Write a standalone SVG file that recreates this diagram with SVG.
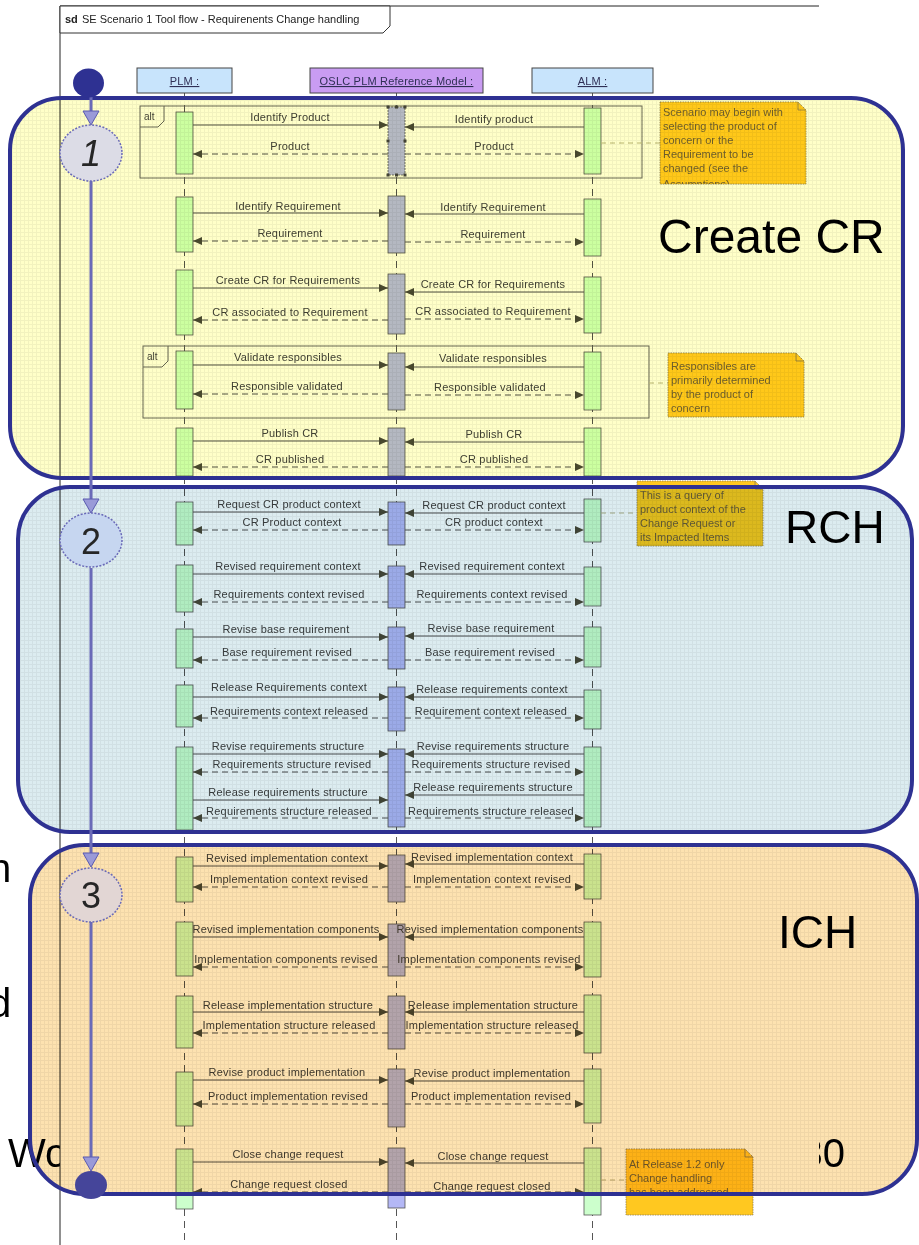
<svg xmlns="http://www.w3.org/2000/svg" width="919" height="1245" viewBox="0 0 919 1245">
  <style>
    .msg { font-family: "Liberation Sans", Arial, sans-serif; font-size: 11px; fill: #404040; letter-spacing: 0.2px; text-anchor: middle; }
    .call { stroke: #505050; stroke-width: 1; fill: none; marker-end: url(#ah); }
    .ret { stroke: #505050; stroke-width: 1; fill: none; stroke-dasharray: 6 4; marker-end: url(#ah); }
    .life { stroke: #555; stroke-width: 1; stroke-dasharray: 7 5; }
    .bar-g { fill: #ccffcc; stroke: #555; stroke-width: 0.8; }
    .bar-b { fill: #b4b8f6; stroke: #555; stroke-width: 0.8; }
    .head { stroke: #444; stroke-width: 1; }
    .headtxt { font-family: "Liberation Sans", Arial, sans-serif; font-size: 11px; fill: #2f2f55; text-decoration: underline; text-anchor: middle; letter-spacing: 0.2px; }
    .frag { fill: none; stroke: #666; stroke-width: 1; }
    .fragtxt { font-family: "Liberation Sans", Arial, sans-serif; font-size: 10px; fill: #444; }
    .note { fill: #ffc820; stroke: #8a7a50; stroke-width: 0.8; stroke-dasharray: 1.5 1; }
    .notetxt { font-family: "Liberation Sans", Arial, sans-serif; font-size: 11px; fill: #6e5f38; }
    .anchor { stroke: #b8b48c; stroke-width: 1; stroke-dasharray: 5 4; }
    .tint { mix-blend-mode: multiply; }
    .region { stroke: #2e3192; stroke-width: 4; fill: none; }
    .big { font-family: "Liberation Sans", Arial, sans-serif; fill: #000; }
    .flow { stroke: #6a6ab8; stroke-width: 3; fill: none; }
    .flowhead { fill: #9a9ad8; stroke: #5a5ab0; stroke-width: 1; }
    .step { stroke: #6a6ab8; stroke-width: 1.5; stroke-dasharray: 2 1.5; }
    .steptxt { font-family: "Liberation Sans", Arial, sans-serif; font-size: 36px; fill: #262626; text-anchor: middle; }
    .bg { font-family: "Liberation Sans", Arial, sans-serif; font-size: 40px; fill: #000; }
  </style>
  <defs>
    <marker id="ah" markerWidth="9" markerHeight="8" refX="9" refY="4" orient="auto" markerUnits="userSpaceOnUse">
      <path d="M0,0 L9,4 L0,8 Z" fill="#4a4a3a"/>
    </marker>
    <pattern id="grain" width="4" height="4" patternUnits="userSpaceOnUse">
      <path d="M0,0.5 H4 M0.5,0 V4" stroke="#000" stroke-width="1" opacity="0.05"/>
    </pattern>
    <clipPath id="clipNote1"><rect x="660" y="102" width="146" height="82"/></clipPath>
    <clipPath id="clipNote4"><rect x="626" y="1149" width="127" height="66"/></clipPath>
  </defs>

  <!-- slide text lying behind the diagram frame -->
  <g id="slide-text">
    <text class="bg" x="-11" y="882">n</text>
    <text class="bg" x="-11" y="1017">d</text>
    <text class="bg" x="8" y="1167">Wo</text>
    <text class="bg" x="845" y="1167" font-size="36" text-anchor="end">30</text>
  </g>

  <!-- sequence diagram frame -->
  <g id="frame">
    <rect x="60" y="6" width="759" height="1239" fill="#fff"/>
    <path d="M60,1245 V6 H819" fill="none" stroke="#222" stroke-width="1"/>
    <path d="M60,6 H390 V26 L383,33 H60 Z" fill="#fff" stroke="#333" stroke-width="1"/>
    <text x="65" y="23" font-family="Liberation Sans, Arial, sans-serif" font-size="11" font-weight="bold" fill="#222">sd</text>
    <text x="82" y="23" font-family="Liberation Sans, Arial, sans-serif" font-size="11" fill="#222">SE Scenario 1 Tool flow - Requirenents Change handling</text>
  </g>

  <!-- lifelines -->
  <g id="lifeline-lines">
    <line class="life" x1="184.5" y1="93" x2="184.5" y2="1245"/>
    <line class="life" x1="396.5" y1="93" x2="396.5" y2="1245"/>
    <line class="life" x1="592.5" y1="93" x2="592.5" y2="1245"/>
  </g>
  <g id="plm">
    <rect class="head" x="137" y="68" width="95" height="25" fill="#c8e4fc"/>
    <text class="headtxt" x="184.5" y="85">PLM :</text>
  </g>
  <g id="oslc">
    <rect class="head" x="310" y="68" width="173" height="25" fill="#c99cf2"/>
    <text class="headtxt" x="396.5" y="85">OSLC PLM Reference Model :</text>
  </g>
  <g id="alm">
    <rect class="head" x="532" y="68" width="121" height="25" fill="#c8e4fc"/>
    <text class="headtxt" x="592.5" y="85">ALM :</text>
  </g>

  <!-- combined fragments -->
  <g id="alt-1">
    <rect class="frag" x="140" y="106" width="502" height="72"/>
    <path class="frag" d="M140,127 H158 L164,121 V106"/>
    <text class="fragtxt" x="144" y="120">alt</text>
  </g>
  <g id="alt-2">
    <rect class="frag" x="143" y="346" width="506" height="72"/>
    <path class="frag" d="M143,367 H162 L168,361 V346"/>
    <text class="fragtxt" x="147" y="360">alt</text>
  </g>

  <!-- activation bars -->
  <g id="activations">
    <rect class="bar-g" x="176" y="112" width="17" height="62"/>
    <rect class="bar-b" x="388" y="107" width="17" height="68" stroke-dasharray="2 1"/>
    <rect class="bar-g" x="584" y="108" width="17" height="66"/>

    <rect class="bar-g" x="176" y="197" width="17" height="55"/>
    <rect class="bar-b" x="388" y="196" width="17" height="57"/>
    <rect class="bar-g" x="584" y="199" width="17" height="57"/>

    <rect class="bar-g" x="176" y="270" width="17" height="65"/>
    <rect class="bar-b" x="388" y="274" width="17" height="60"/>
    <rect class="bar-g" x="584" y="277" width="17" height="56"/>

    <rect class="bar-g" x="176" y="351" width="17" height="58"/>
    <rect class="bar-b" x="388" y="353" width="17" height="57"/>
    <rect class="bar-g" x="584" y="352" width="17" height="58"/>

    <rect class="bar-g" x="176" y="428" width="17" height="48"/>
    <rect class="bar-b" x="388" y="428" width="17" height="48"/>
    <rect class="bar-g" x="584" y="428" width="17" height="48"/>

    <rect class="bar-g" x="176" y="502" width="17" height="43"/>
    <rect class="bar-b" x="388" y="502" width="17" height="43"/>
    <rect class="bar-g" x="584" y="499" width="17" height="43"/>

    <rect class="bar-g" x="176" y="565" width="17" height="47"/>
    <rect class="bar-b" x="388" y="566" width="17" height="42"/>
    <rect class="bar-g" x="584" y="567" width="17" height="39"/>

    <rect class="bar-g" x="176" y="629" width="17" height="39"/>
    <rect class="bar-b" x="388" y="627" width="17" height="42"/>
    <rect class="bar-g" x="584" y="627" width="17" height="40"/>

    <rect class="bar-g" x="176" y="685" width="17" height="42"/>
    <rect class="bar-b" x="388" y="687" width="17" height="44"/>
    <rect class="bar-g" x="584" y="690" width="17" height="39"/>

    <rect class="bar-g" x="176" y="747" width="17" height="83"/>
    <rect class="bar-b" x="388" y="749" width="17" height="78"/>
    <rect class="bar-g" x="584" y="747" width="17" height="80"/>

    <rect class="bar-g" x="176" y="857" width="17" height="45"/>
    <rect class="bar-b" x="388" y="855" width="17" height="47"/>
    <rect class="bar-g" x="584" y="854" width="17" height="45"/>

    <rect class="bar-g" x="176" y="922" width="17" height="54"/>
    <rect class="bar-b" x="388" y="924" width="17" height="52"/>
    <rect class="bar-g" x="584" y="922" width="17" height="55"/>

    <rect class="bar-g" x="176" y="996" width="17" height="52"/>
    <rect class="bar-b" x="388" y="996" width="17" height="53"/>
    <rect class="bar-g" x="584" y="995" width="17" height="58"/>

    <rect class="bar-g" x="176" y="1072" width="17" height="54"/>
    <rect class="bar-b" x="388" y="1069" width="17" height="58"/>
    <rect class="bar-g" x="584" y="1069" width="17" height="54"/>

    <rect class="bar-g" x="176" y="1149" width="17" height="60"/>
    <rect class="bar-b" x="388" y="1148" width="17" height="60"/>
    <rect class="bar-g" x="584" y="1148" width="17" height="67"/>

    <!-- selection handles on the first OSLC activation -->
    <g fill="#444">
      <rect x="386.5" y="105.5" width="3" height="3"/><rect x="395" y="105.5" width="3" height="3"/><rect x="403.5" y="105.5" width="3" height="3"/>
      <rect x="386.5" y="139.5" width="3" height="3"/><rect x="403.5" y="139.5" width="3" height="3"/>
      <rect x="386.5" y="173.5" width="3" height="3"/><rect x="395" y="173.5" width="3" height="3"/><rect x="403.5" y="173.5" width="3" height="3"/>
    </g>
  </g>

  <!-- messages -->
  <g id="connectors">
    <line class="call" x1="193" y1="125" x2="388" y2="125"/>
    <line class="call" x1="584" y1="127" x2="405" y2="127"/>
    <line class="ret" x1="388" y1="154" x2="193" y2="154"/>
    <line class="ret" x1="405" y1="154" x2="584" y2="154"/>

    <line class="call" x1="193" y1="213" x2="388" y2="213"/>
    <line class="call" x1="584" y1="214" x2="405" y2="214"/>
    <line class="ret" x1="388" y1="241" x2="193" y2="241"/>
    <line class="ret" x1="405" y1="242" x2="584" y2="242"/>

    <line class="call" x1="193" y1="288" x2="388" y2="288"/>
    <line class="call" x1="584" y1="292" x2="405" y2="292"/>
    <line class="ret" x1="388" y1="320" x2="193" y2="320"/>
    <line class="ret" x1="405" y1="319" x2="584" y2="319"/>

    <line class="call" x1="193" y1="365" x2="388" y2="365"/>
    <line class="call" x1="584" y1="367" x2="405" y2="367"/>
    <line class="ret" x1="388" y1="394" x2="193" y2="394"/>
    <line class="ret" x1="405" y1="395" x2="584" y2="395"/>

    <line class="call" x1="193" y1="441" x2="388" y2="441"/>
    <line class="call" x1="584" y1="442" x2="405" y2="442"/>
    <line class="ret" x1="388" y1="467" x2="193" y2="467"/>
    <line class="ret" x1="405" y1="467" x2="584" y2="467"/>

    <line class="call" x1="193" y1="512" x2="388" y2="512"/>
    <line class="call" x1="584" y1="513" x2="405" y2="513"/>
    <line class="ret" x1="388" y1="530" x2="193" y2="530"/>
    <line class="ret" x1="405" y1="530" x2="584" y2="530"/>

    <line class="call" x1="193" y1="574" x2="388" y2="574"/>
    <line class="call" x1="584" y1="574" x2="405" y2="574"/>
    <line class="ret" x1="388" y1="602" x2="193" y2="602"/>
    <line class="ret" x1="405" y1="602" x2="584" y2="602"/>

    <line class="call" x1="193" y1="637" x2="388" y2="637"/>
    <line class="call" x1="584" y1="636" x2="405" y2="636"/>
    <line class="ret" x1="388" y1="660" x2="193" y2="660"/>
    <line class="ret" x1="405" y1="660" x2="584" y2="660"/>

    <line class="call" x1="193" y1="697" x2="388" y2="697"/>
    <line class="call" x1="584" y1="697" x2="405" y2="697"/>
    <line class="ret" x1="388" y1="718" x2="193" y2="718"/>
    <line class="ret" x1="405" y1="718" x2="584" y2="718"/>

    <line class="call" x1="193" y1="754" x2="388" y2="754"/>
    <line class="call" x1="584" y1="754" x2="405" y2="754"/>
    <line class="ret" x1="388" y1="772" x2="193" y2="772"/>
    <line class="ret" x1="405" y1="772" x2="584" y2="772"/>
    <line class="call" x1="193" y1="800" x2="388" y2="800"/>
    <line class="call" x1="584" y1="795" x2="405" y2="795"/>
    <line class="ret" x1="388" y1="818" x2="193" y2="818"/>
    <line class="ret" x1="405" y1="818" x2="584" y2="818"/>

    <line class="call" x1="193" y1="866" x2="388" y2="866"/>
    <line class="call" x1="584" y1="864" x2="405" y2="864"/>
    <line class="ret" x1="388" y1="887" x2="193" y2="887"/>
    <line class="ret" x1="405" y1="887" x2="584" y2="887"/>

    <line class="call" x1="193" y1="937" x2="388" y2="937"/>
    <line class="call" x1="584" y1="937" x2="405" y2="937"/>
    <line class="ret" x1="388" y1="967" x2="193" y2="967"/>
    <line class="ret" x1="405" y1="967" x2="584" y2="967"/>

    <line class="call" x1="193" y1="1012" x2="388" y2="1012"/>
    <line class="call" x1="584" y1="1012" x2="405" y2="1012"/>
    <line class="ret" x1="388" y1="1033" x2="193" y2="1033"/>
    <line class="ret" x1="405" y1="1033" x2="584" y2="1033"/>

    <line class="call" x1="193" y1="1080" x2="388" y2="1080"/>
    <line class="call" x1="584" y1="1081" x2="405" y2="1081"/>
    <line class="ret" x1="388" y1="1104" x2="193" y2="1104"/>
    <line class="ret" x1="405" y1="1104" x2="584" y2="1104"/>

    <line class="call" x1="193" y1="1162" x2="388" y2="1162"/>
    <line class="call" x1="584" y1="1163" x2="405" y2="1163"/>
    <line class="ret" x1="388" y1="1192" x2="193" y2="1192"/>
    <line class="ret" x1="405" y1="1192" x2="584" y2="1192"/>

    <!-- note anchors -->
    <line class="anchor" x1="601" y1="143" x2="660" y2="143"/>
    <line class="anchor" x1="649" y1="383" x2="668" y2="383"/>
    <line class="anchor" x1="601" y1="513" x2="637" y2="513"/>
    <line class="anchor" x1="601" y1="1180" x2="626" y2="1180"/>
  </g>

  <!-- message labels -->
  <g id="message-labels">
    <text class="msg" x="290" y="121">Identify Product</text>
    <text class="msg" x="494" y="123">Identify product</text>
    <text class="msg" x="290" y="150">Product</text>
    <text class="msg" x="494" y="150">Product</text>

    <text class="msg" x="288" y="210">Identify Requirement</text>
    <text class="msg" x="493" y="211">Identify Requirement</text>
    <text class="msg" x="290" y="237">Requirement</text>
    <text class="msg" x="493" y="238">Requirement</text>

    <text class="msg" x="288" y="284">Create CR for Requirements</text>
    <text class="msg" x="493" y="288">Create CR for Requirements</text>
    <text class="msg" x="290" y="316">CR associated to Requirement</text>
    <text class="msg" x="493" y="315">CR associated to Requirement</text>

    <text class="msg" x="288" y="361">Validate responsibles</text>
    <text class="msg" x="493" y="362">Validate responsibles</text>
    <text class="msg" x="287" y="390">Responsible validated</text>
    <text class="msg" x="490" y="391">Responsible validated</text>

    <text class="msg" x="290" y="437">Publish CR</text>
    <text class="msg" x="494" y="438">Publish CR</text>
    <text class="msg" x="290" y="463">CR published</text>
    <text class="msg" x="494" y="463">CR published</text>

    <text class="msg" x="289" y="508">Request CR product context</text>
    <text class="msg" x="494" y="509">Request CR product context</text>
    <text class="msg" x="292" y="526">CR Product context</text>
    <text class="msg" x="494" y="526">CR product context</text>

    <text class="msg" x="288" y="570">Revised requirement context</text>
    <text class="msg" x="492" y="570">Revised requirement context</text>
    <text class="msg" x="289" y="598">Requirements context revised</text>
    <text class="msg" x="492" y="598">Requirements context revised</text>

    <text class="msg" x="286" y="633">Revise base requirement</text>
    <text class="msg" x="491" y="632">Revise base requirement</text>
    <text class="msg" x="287" y="656">Base requirement revised</text>
    <text class="msg" x="490" y="656">Base requirement revised</text>

    <text class="msg" x="289" y="691">Release Requirements context</text>
    <text class="msg" x="492" y="693">Release requirements context</text>
    <text class="msg" x="289" y="715">Requirements context released</text>
    <text class="msg" x="491" y="715">Requirement context released</text>

    <text class="msg" x="288" y="750">Revise requirements structure</text>
    <text class="msg" x="493" y="750">Revise requirements structure</text>
    <text class="msg" x="292" y="768">Requirements structure revised</text>
    <text class="msg" x="491" y="768">Requirements structure revised</text>
    <text class="msg" x="288" y="796">Release requirements structure</text>
    <text class="msg" x="493" y="791">Release requirements structure</text>
    <text class="msg" x="289" y="815">Requirements structure released</text>
    <text class="msg" x="491" y="815">Requirements structure released</text>

    <text class="msg" x="287" y="862">Revised implementation context</text>
    <text class="msg" x="492" y="861">Revised implementation context</text>
    <text class="msg" x="289" y="883">Implementation context revised</text>
    <text class="msg" x="492" y="883">Implementation context revised</text>

    <text class="msg" x="286" y="933">Revised implementation components</text>
    <text class="msg" x="490" y="933">Revised implementation components</text>
    <text class="msg" x="286" y="963">Implementation components revised</text>
    <text class="msg" x="489" y="963">Implementation components revised</text>

    <text class="msg" x="288" y="1009">Release implementation structure</text>
    <text class="msg" x="493" y="1009">Release implementation structure</text>
    <text class="msg" x="289" y="1029">Implementation structure released</text>
    <text class="msg" x="492" y="1029">Implementation structure released</text>

    <text class="msg" x="287" y="1076">Revise product implementation</text>
    <text class="msg" x="492" y="1077">Revise product implementation</text>
    <text class="msg" x="288" y="1100">Product implementation revised</text>
    <text class="msg" x="491" y="1100">Product implementation revised</text>

    <text class="msg" x="288" y="1158">Close change request</text>
    <text class="msg" x="493" y="1160">Close change request</text>
    <text class="msg" x="289" y="1188">Change request closed</text>
    <text class="msg" x="492" y="1190">Change request closed</text>
  </g>

  <!-- notes -->
  <g id="note-scenario">
    <path class="note" d="M660,102 H798 L806,110 V184 H660 Z"/>
    <path d="M798,102 V110 H806" fill="none" stroke="#8a7a50" stroke-width="0.8"/>
    <g clip-path="url(#clipNote1)">
      <text class="notetxt" x="663" y="116">Scenario may begin with</text>
      <text class="notetxt" x="663" y="130">selecting the product of</text>
      <text class="notetxt" x="663" y="144">concern or the</text>
      <text class="notetxt" x="663" y="158">Requirement to be</text>
      <text class="notetxt" x="663" y="172">changed (see the</text>
      <text class="notetxt" x="663" y="188">Assumptions)</text>
    </g>
  </g>
  <g id="note-responsibles">
    <path class="note" d="M668,353 H796 L804,361 V417 H668 Z"/>
    <path d="M796,353 V361 H804" fill="none" stroke="#8a7a50" stroke-width="0.8"/>
    <text class="notetxt" x="671" y="370">Responsibles are</text>
    <text class="notetxt" x="671" y="384">primarily determined</text>
    <text class="notetxt" x="671" y="398">by the product of</text>
    <text class="notetxt" x="671" y="412">concern</text>
  </g>
  <g id="note-query">
    <path class="note" d="M637,481 H755 L763,489 V546 H637 Z"/>
    <path d="M755,481 V489 H763" fill="none" stroke="#8a7a50" stroke-width="0.8"/>
    <text class="notetxt" x="640" y="499">This is a query of</text>
    <text class="notetxt" x="640" y="513">product context of the</text>
    <text class="notetxt" x="640" y="527">Change Request or</text>
    <text class="notetxt" x="640" y="541">its Impacted Items</text>
  </g>
  <g id="note-release">
    <path class="note" d="M626,1149 H745 L753,1157 V1215 H626 Z"/>
    <path d="M745,1149 V1157 H753" fill="none" stroke="#8a7a50" stroke-width="0.8"/>
    <g clip-path="url(#clipNote4)">
      <text class="notetxt" x="629" y="1168">At Release 1.2 only</text>
      <text class="notetxt" x="629" y="1182">Change handling</text>
      <text class="notetxt" x="629" y="1196">has been addressed</text>
    </g>
  </g>

  <text class="big" x="778" y="948" font-size="46" fill="#262626">ICH</text>

  <!-- phase regions -->
  <g id="region-create-cr">
    <rect class="tint" x="10" y="98" width="893" height="380" rx="52" fill="#ffffc8"/>
    <rect x="10" y="98" width="893" height="380" rx="52" fill="url(#grain)"/>
    <rect class="region" x="10" y="98" width="893" height="380" rx="52"/>
    <text class="big" x="658" y="253" font-size="48">Create CR</text>
  </g>
  <g id="region-rch">
    <rect class="tint" x="18" y="487" width="894" height="345" rx="52" fill="#dcecf0"/>
    <rect x="18" y="487" width="894" height="345" rx="52" fill="url(#grain)"/>
    <rect class="region" x="18" y="487" width="894" height="345" rx="52"/>
    <text class="big" x="785" y="543" font-size="46">RCH</text>
  </g>
  <g id="region-ich">
    <rect class="tint" x="30" y="845" width="887" height="349" rx="55" fill="#fde2b0"/>
    <rect x="30" y="845" width="887" height="349" rx="55" fill="url(#grain)"/>
    <rect class="region" x="30" y="845" width="887" height="349" rx="55"/>
  </g>

  <!-- phase flow -->
  <g id="flow">
    <line class="flow" x1="91" y1="97" x2="91" y2="112"/>
    <polygon class="flowhead" points="83,111 99,111 91,125"/>
    <line class="flow" x1="91" y1="181" x2="91" y2="500"/>
    <polygon class="flowhead" points="83,499 99,499 91,513"/>
    <line class="flow" x1="91" y1="568" x2="91" y2="853"/>
    <polygon class="flowhead" points="83,853 99,853 91,867"/>
    <line class="flow" x1="91" y1="922" x2="91" y2="1158"/>
    <polygon class="flowhead" points="83,1157 99,1157 91,1171"/>
  </g>
  <g id="start">
    <ellipse cx="88.5" cy="83" rx="15.5" ry="14.5" fill="#2e3192"/>
  </g>
  <g id="step-1">
    <ellipse class="step" cx="91" cy="153" rx="31" ry="28" fill="#dcdce6"/>
    <text class="steptxt" x="91" y="166" font-style="italic" font-size="34">1</text>
  </g>
  <g id="step-2">
    <ellipse class="step" cx="91" cy="540" rx="31" ry="27" fill="#c6d6f0"/>
    <text class="steptxt" x="91" y="554">2</text>
  </g>
  <g id="step-3">
    <ellipse class="step" cx="91" cy="895" rx="31" ry="27" fill="#e2d6d4"/>
    <text class="steptxt" x="91" y="908">3</text>
  </g>
  <g id="end">
    <ellipse cx="91" cy="1185" rx="16" ry="14" fill="#45459a"/>
  </g>
</svg>
